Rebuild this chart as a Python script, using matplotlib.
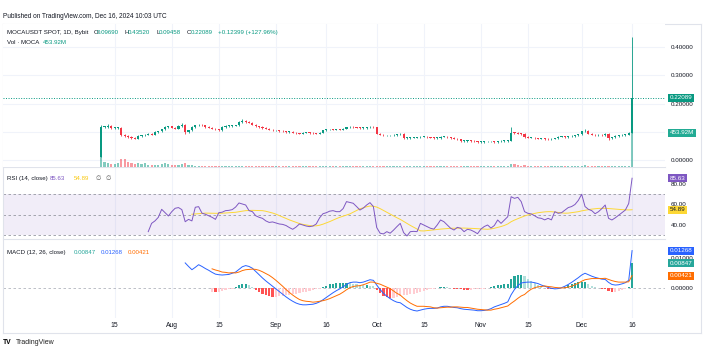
import matplotlib
matplotlib.use("Agg")
import matplotlib.pyplot as plt
import matplotlib.dates as mdates
from matplotlib.lines import Line2D
from matplotlib.ticker import FormatStrFormatter
from matplotlib.transforms import blended_transform_factory
import numpy as np
import pandas as pd

# ---------------- data ----------------
start_day = "2024-07-11"
closes = [
    0.1168, 0.1168, 0.1204, 0.1133, 0.1133, 0.1150, 0.0885, 0.0850, 0.0814, 0.0779,
    0.0754, 0.0850, 0.0874, 0.0896, 0.0931, 0.0896, 0.0991, 0.1016, 0.1087, 0.1168,
    0.1193, 0.1143, 0.1108, 0.1204, 0.1250, 0.0991, 0.1051, 0.1168, 0.1228, 0.1250,
    0.1228, 0.1168, 0.1143, 0.1108, 0.1087, 0.1051, 0.1168, 0.1204, 0.1204, 0.1215,
    0.1228, 0.1345, 0.1380, 0.1345, 0.1320, 0.1250, 0.1193, 0.1168, 0.1133, 0.1108,
    0.1073, 0.1051, 0.1051, 0.1027, 0.1016, 0.0991, 0.0991, 0.0966, 0.0945, 0.0931,
    0.0966, 0.0966, 0.0956, 0.0945, 0.0931, 0.0966, 0.1051, 0.1087, 0.1087, 0.1073,
    0.1087, 0.1073, 0.1108, 0.1158, 0.1168, 0.1158, 0.1143, 0.1133, 0.1133, 0.1158,
    0.1168, 0.1158, 0.0931, 0.0896, 0.0874, 0.0874, 0.0874, 0.0885, 0.0910, 0.0920,
    0.0779, 0.0779, 0.0790, 0.0790, 0.0804, 0.0825, 0.0825, 0.0804, 0.0790, 0.0779,
    0.0779, 0.0825, 0.0825, 0.0804, 0.0779, 0.0754, 0.0733, 0.0673, 0.0673, 0.0683,
    0.0673, 0.0662, 0.0637, 0.0637, 0.0662, 0.0662, 0.0662, 0.0637, 0.0662, 0.0673,
    0.0673, 0.0683, 0.0966, 0.0956, 0.0931, 0.0920, 0.0814, 0.0790, 0.0790, 0.0768,
    0.0754, 0.0754, 0.0743, 0.0733, 0.0754, 0.0768, 0.0825, 0.0839, 0.0814, 0.0839,
    0.0850, 0.0874, 0.0910, 0.1016, 0.1040, 0.0931, 0.0896, 0.0874, 0.0896, 0.0874,
    0.0920, 0.0779, 0.0804, 0.0850, 0.0874, 0.0885, 0.0896, 0.0969, 0.22089,
]
first_open = 0.0110
high_marks = {0: 0.125, 2: 0.127, 24: 0.130, 42: 0.146, 122: 0.1168, 144: 0.108, 158: 0.4352}
low_marks = {0: 0.009, 25: 0.092, 151: 0.0708, 158: 0.09458}
volume_m = [
    133, 67, 53, 40, 40, 47, 107, 113, 67, 53,
    40, 60, 40, 47, 33, 33, 33, 33, 40, 47,
    40, 33, 27, 33, 40, 47, 33, 27, 20, 20,
    20, 18, 16, 15, 14, 15, 16, 14, 13, 12,
    14, 18, 20, 16, 14, 13, 12, 11, 10, 10,
    9, 9, 9, 8, 8, 8, 8, 8, 7, 7,
    7, 7, 7, 7, 7, 8, 12, 10, 9, 8,
    8, 8, 9, 10, 9, 8, 8, 7, 7, 8,
    8, 8, 18, 12, 10, 8, 8, 8, 8, 8,
    14, 10, 8, 8, 7, 8, 8, 7, 7, 7,
    7, 8, 8, 7, 7, 8, 8, 10, 8, 7,
    7, 7, 8, 7, 7, 7, 7, 7, 7, 7,
    7, 8, 40, 35, 25, 18, 25, 14, 10, 9,
    9, 9, 12, 14, 10, 9, 10, 9, 8, 9,
    9, 10, 12, 20, 22, 18, 14, 12, 10, 10,
    12, 20, 14, 12, 10, 10, 10, 14, 453.92,
]
rsi_vals = [
    33.5, 41.6, 44.0, 47.5, 55.3, 52.0, 48.8, 53.0, 56.3, 57.0,
    55.0, 43.2, 45.5, 44.0, 57.3, 57.9, 51.5, 50.5, 49.0, 47.5,
    45.5, 52.0, 52.5, 54.0, 54.3, 55.0, 57.5, 61.5, 60.5, 59.5,
    54.0, 53.0, 49.0, 47.5, 46.5, 44.0, 42.5, 43.0, 42.0, 41.0,
    40.6, 39.5, 37.5, 35.8, 38.0, 41.0, 40.0, 39.0, 38.4, 39.0,
    41.0, 47.0, 51.0, 52.0, 53.5, 54.0, 53.0, 53.0, 56.0, 62.8,
    62.0, 61.2, 58.0, 54.6, 56.5, 59.5, 61.8, 58.0, 37.5, 32.0,
    31.3, 33.5, 32.0, 35.0, 38.4, 41.6, 32.6, 29.3, 33.5, 33.8,
    33.5, 41.6, 40.0, 38.4, 36.8, 36.0, 40.0, 44.9, 43.2, 40.0,
    36.8, 35.1, 37.7, 36.8, 33.5, 35.8, 35.1, 33.5, 31.5, 36.0,
    38.5, 40.0, 37.0, 39.5, 44.9, 41.6, 44.9, 48.1, 67.6, 66.0,
    67.0, 62.8, 53.0, 51.4, 50.8, 49.0, 47.0, 46.5, 45.0, 46.5,
    45.0, 53.0, 51.4, 52.0, 54.5, 57.0, 58.0, 60.0, 64.0, 70.0,
    58.0, 55.3, 54.0, 51.0, 53.0, 56.0, 59.5, 46.5, 44.9, 47.0,
    49.5, 52.0, 54.6, 61.0, 85.63,
]
rsi_ma_vals = [
    50.5, 50.8, 51.2, 51.5, 51.6, 51.5, 51.4, 51.4, 51.4, 51.5,
    51.7, 51.8, 52.0, 52.4, 53.0, 53.5, 54.0, 54.2, 54.3, 54.2,
    54.1, 54.0, 53.4, 52.6, 51.7, 50.6, 49.2, 47.8, 46.3, 45.0,
    43.8, 42.6, 41.4, 40.6, 40.0, 39.5, 39.1, 39.2, 39.8, 40.8,
    42.0, 43.3, 44.8, 46.2, 47.5, 48.6, 49.7, 50.8, 52.5, 54.2,
    55.8, 56.8, 57.8, 58.5, 58.3, 57.5, 56.0, 54.2, 52.3, 50.5,
    48.8, 47.1, 45.5, 43.5, 41.5, 39.6, 37.8, 36.0, 34.3, 34.2,
    34.5, 34.9, 35.3, 35.7, 36.0, 36.3, 36.6, 36.8, 36.8, 36.9,
    37.0, 37.0, 36.9, 36.8, 36.6, 36.4, 36.2, 36.0, 35.8, 36.2,
    36.8, 37.6, 38.5, 39.6, 41.0, 43.2, 44.8, 46.2, 47.5, 48.8,
    49.8, 50.6, 51.3, 52.0, 52.4, 52.8, 53.0, 53.0, 52.6, 52.2,
    51.8, 51.5, 51.6, 52.0, 52.5, 53.0, 53.8, 54.4, 55.0, 55.5,
    55.9, 56.2, 56.3, 56.3, 56.1, 55.8, 55.5, 55.2, 55.0, 54.8,
    54.7, 54.89,
]
# MACD pane values in units of 0.001 (all series end on Dec 16)
macd_vals = [
    8.5, 7.3, 6.2, 7.0, 7.9, 7.3, 6.6, 6.0, 5.3, 4.7,
    4.5, 4.4, 4.5, 4.6, 5.0, 5.4, 6.3, 7.2, 7.6, 7.3,
    6.7, 5.6, 4.5, 3.4, 2.4, 1.5, 0.6, -0.3, -1.2, -2.1,
    -3.0, -3.8, -4.5, -5.1, -5.5, -5.7, -5.7, -5.6, -5.5, -5.2,
    -4.7, -4.0, -3.2, -2.4, -1.6, -0.9, -0.3, 0.4, 1.2, 1.8,
    2.0, 2.0, 1.8, 2.0, 2.4, 2.8, 2.6, 1.0, -0.5, -1.8,
    -2.8, -3.6, -4.3, -4.8, -5.0, -5.8, -6.6, -7.2, -7.6, -7.8,
    -7.5, -7.2, -7.0, -6.9, -6.9, -6.8, -6.4, -6.2, -6.2, -6.4,
    -6.6, -6.7, -7.0, -7.2, -7.3, -7.4, -7.5, -7.7, -7.7, -7.6,
    -7.4, -7.0, -6.4, -6.0, -5.6, -5.2, -4.7, -2.3, -0.5, 0.8,
    1.7, 1.9, 2.0, 2.0, 1.8, 1.5, 1.0, 0.6, 0.2, -0.1,
    -0.3, -0.2, 0.1, 0.6, 1.2, 1.9, 2.7, 3.5, 4.4, 5.0,
    4.5, 4.0, 3.6, 3.3, 3.0, 2.9, 1.9, 1.2, 1.0, 1.1,
    1.4, 1.8, 2.6, 12.68,
]
signal_vals = [
    6.5, 6.1, 5.8, 5.4, 5.3, 5.1, 5.2, 5.1, 5.4, 5.9,
    6.2, 6.3, 6.4, 6.3, 6.0, 5.5, 4.9, 4.3, 3.5, 2.6,
    1.6, 0.6, -0.5, -1.5, -2.4, -3.2, -3.9, -4.3, -4.5, -4.6,
    -4.8, -4.7, -4.5, -4.3, -4.0, -3.6, -3.1, -2.6, -2.1, -1.4,
    -0.6, 0.1, 0.5, 0.7, 0.8, 1.1, 1.5, 2.0, 2.0, 1.6,
    1.3, 0.8, 0.3, -0.2, -1.0, -1.8, -2.4, -3.4, -4.3, -5.1,
    -5.7, -6.2, -6.2, -6.2, -6.3, -6.4, -6.7, -6.8, -6.7, -6.6,
    -6.5, -6.5, -6.4, -6.4, -6.5, -6.6, -6.6, -6.8, -7.0, -7.2,
    -7.3, -7.4, -7.5, -7.5, -7.2, -7.0, -6.7, -6.4, -6.1, -5.2,
    -4.4, -3.5, -2.7, -2.2, -1.2, -0.4, 0.1, 0.4, 0.5, 0.7,
    0.5, 0.4, 0.2, 0.1, 0.0, 0.1, 0.3, 0.6, 1.1, 1.6,
    2.3, 2.8, 3.0, 3.2, 3.2, 3.2, 3.2, 3.3, 2.9, 2.5,
    2.2, 2.0, 2.0, 2.0, 2.1, 4.21,
]
hist_vals = [
    -1.2, -1.4, -1.3, -1.0, -0.8, -0.5, -0.2, 0.3, 0.9, 1.3,
    1.4, 1.0, 0.3, -0.7, -1.5, -2.1, -2.5, -2.8, -2.9, -2.9,
    -2.8, -2.7, -2.5, -2.3, -2.1, -1.9, -1.6, -1.4, -1.2, -1.0,
    -0.7, -0.5, -0.2, 0.3, 0.8, 1.2, 1.5, 1.7, 1.8, 1.8,
    1.8, 1.7, 1.5, 1.3, 1.0, 0.9, 0.9, 0.8, 0.6, -0.6,
    -1.8, -2.6, -3.1, -3.4, -3.3, -3.0, -2.6, -2.4, -2.3, -2.1,
    -1.9, -1.6, -1.3, -1.0, -0.7, -0.5, -0.3, 0.1, 0.3, 0.4,
    0.3, 0.1, -0.2, -0.3, -0.5, -0.6, -0.7, -0.6, -0.5, -0.5,
    -0.4, -0.2, 0.1, 0.5, 0.8, 1.0, 1.1, 1.2, 1.4, 2.9,
    3.9, 4.3, 4.4, 4.1, 3.2, 2.4, 1.7, 1.1, 0.5, -0.1,
    -0.3, -0.5, -0.5, -0.3, 0.1, 0.5, 0.9, 1.3, 1.6, 1.9,
    2.1, 2.2, 1.5, 0.8, 0.4, 0.1, -0.2, -0.4, -1.0, -1.3,
    -1.2, -0.9, -0.6, -0.2, 0.5, 8.47,
]
tick_dates = ["2024-07-15", "2024-08-01", "2024-08-15", "2024-09-01", "2024-09-16",
              "2024-10-01", "2024-10-15", "2024-11-01", "2024-11-15", "2024-12-01",
              "2024-12-16"]
tick_labels = ["15", "Aug", "15", "Sep", "16", "Oct", "15", "Nov", "15", "Dec", "16"]
price_ticks = [0.0, 0.1, 0.2, 0.3, 0.4]
rsi_ticks = [40, 60, 80]
macd_ticks = [0.0, 0.01]

# ---------------- style ----------------
UP, DOWN = "#089981", "#F23645"
TXT = "#131722"
GRID = "#F0F3FA"
BORDER = "#E0E3EB"
FONT = ["Liberation Sans", "DejaVu Sans"]
plt.rcParams["font.family"] = FONT

W, H = 703, 351
fig = plt.figure(figsize=(W / 100, H / 100), dpi=100)
fig.patch.set_facecolor("white")
R = fig.canvas.get_renderer()

def fit(text, px_w, **kw):
    t = fig.text(0, 0, text, fontsize=10, **kw)
    w = t.get_window_extent(renderer=R).width
    t.remove()
    return 10 * px_w / w

def put(text, x, y, size, color=TXT, ha="left", **kw):
    return fig.text(x / W, 1 - y / H, text, fontsize=size, color=color,
                    ha=ha, va="center", **kw)

L_PX, R_PX = 3, 665
def pane(top, bot):
    return fig.add_axes([L_PX / W, 1 - bot / H, (R_PX - L_PX) / W, (bot - top) / H])

n = len(closes)
dates = pd.date_range(start_day, periods=n, freq="D")
xs = mdates.date2num(dates)
PPD, X0PX = 3.36, 101.2
xlim = (xs[0] + (L_PX - X0PX) / PPD, xs[0] + (R_PX - X0PX) / PPD)
tick_x = mdates.date2num(pd.to_datetime(tick_dates))

ax_v = pane(24, 167)
ax_p = ax_v.twinx()
ax_r = pane(168, 238)
ax_m = pane(239, 318)

tick_size = fit("0.40000", 22.7)
for a in (ax_v, ax_p, ax_r, ax_m):
    a.set_xlim(*xlim)
    for s_ in a.spines.values():
        s_.set_visible(False)
    a.tick_params(axis="both", length=0, labelsize=tick_size, labelcolor=TXT)
    a.set_xticks([])
for a in (ax_v, ax_r, ax_m):
    for tx in tick_x:
        a.axvline(tx, color=GRID, lw=0.8, zorder=0)

def box(ax, val, text, fc, tc="white", coords=None):
    if coords is None:
        coords = ("axes fraction", "data")
    ax.annotate(text, xy=(1, val), xycoords=coords,
                xytext=(3.6, 0), textcoords="offset points", ha="left", va="center",
                fontsize=tick_size, color=tc, annotation_clip=False, zorder=10,
                bbox=dict(boxstyle="square,pad=0.25", fc=fc, ec="none"))

# ---- main pane ----
ax_p.set_zorder(3)
ax_v.set_zorder(2)
ax_p.patch.set_visible(False)
ax_p.set_ylim((160 - 167) / 282.5, (160 - 24) / 282.5)
ax_v.set_ylim(0, 453.92 * 143 / 34)
ax_v.set_yticks([])
grid_tr = blended_transform_factory(ax_v.transAxes, ax_p.transData)
for p in price_ticks:
    ax_v.add_line(Line2D([0, 1], [p, p], transform=grid_tr, color=GRID, lw=0.8, zorder=0))
ax_p.yaxis.tick_right()
ax_p.set_yticks(price_ticks)
ax_p.yaxis.set_major_formatter(FormatStrFormatter("%.5f"))
ax_p.tick_params(axis="y", pad=4.3)

opens = [first_open] + closes[:-1]
o = np.array(opens); c = np.array(closes)
WICK = 0.0022
hi = np.maximum(o, c) + WICK
lo = np.minimum(o, c) - WICK
for k, v in high_marks.items():
    hi[k] = v
for k, v in low_marks.items():
    lo[k] = v
cols = [UP if cc >= oo else DOWN for oo, cc in zip(o, c)]
ax_p.vlines(xs, lo, hi, colors=cols, lw=0.6, zorder=3)
body = np.maximum(np.abs(c - o), 0.0025)
ax_p.bar(xs, body, bottom=np.minimum(o, c), width=0.64, color=cols, linewidth=0, zorder=4)
ax_v.bar(xs, volume_m, width=0.64, color=cols, alpha=0.5, linewidth=0, zorder=2)
ax_p.axhline(closes[-1], color=UP, lw=0.7, ls=(0, (1, 1.6)), zorder=5)

box(ax_p, closes[-1], "0.22089", UP)
box(ax_p, volume_m[-1], "453.92M", "#22AB94",
    coords=blended_transform_factory(ax_p.transAxes, ax_v.transData))

# ---- RSI pane ----
def v2y_rsi(y):
    return 80 - (y - 184) / 1.025
ax_r.set_ylim(v2y_rsi(238), v2y_rsi(168))
ax_r.axhspan(30, 70, color="#7E57C2", alpha=0.1, lw=0, zorder=1)
for lvl in (70, 50, 30):
    ax_r.axhline(lvl, color="#9598A1", lw=0.6, ls=(0, (3, 3)), zorder=2)
rx = xs[n - len(rsi_vals):]
rmx = xs[n - len(rsi_ma_vals):]
ax_r.plot(rmx, rsi_ma_vals, color="#FDD835", lw=0.7, zorder=3)
ax_r.plot(rx, rsi_vals, color="#7E57C2", lw=0.7, zorder=4)
ax_r.yaxis.tick_right()
ax_r.set_yticks(rsi_ticks)
ax_r.yaxis.set_major_formatter(FormatStrFormatter("%.2f"))
ax_r.tick_params(axis="y", pad=4.3)
box(ax_r, rsi_vals[-1], "85.63", "#7E57C2")
box(ax_r, rsi_ma_vals[-1], "54.89", "#FDD835", tc=TXT)

# ---- MACD pane ----
ax_m.set_ylim(-(318 - 288) / 2.95 * 0.001, (288 - 239) / 2.95 * 0.001)
ax_m.axhline(0, color="#B2B5BE", lw=0.6, ls=(0, (3, 3)), zorder=1)
m = np.array(macd_vals) * 0.001
s = np.array(signal_vals) * 0.001
hst = np.array(hist_vals) * 0.001
mx = xs[n - len(m):]
sx = xs[n - len(s):]
hx = xs[n - len(hst):]
hcols = []
for k, hv in enumerate(hst):
    prev = hst[k - 1] if k > 0 else hv
    if hv >= 0:
        hcols.append("#26A69A" if hv >= prev else "#B2DFDB")
    else:
        hcols.append("#FFCDD2" if hv >= prev else "#FF5252")
ax_m.bar(hx, hst, width=0.64, color=hcols, linewidth=0, zorder=2)
ax_m.plot(mx, m, color="#2962FF", lw=0.7, zorder=3)
ax_m.plot(sx, s, color="#FF6D00", lw=0.7, zorder=3)
ax_m.yaxis.tick_right()
ax_m.set_yticks(macd_ticks)
ax_m.yaxis.set_major_formatter(FormatStrFormatter("%.5f"))
ax_m.tick_params(axis="y", pad=4.3)
box(ax_m, m[-1], "0.01268", "#2962FF")
box(ax_m, hst[-1], "0.00847", "#26A69A")
box(ax_m, s[-1], "0.00421", "#FF6D00")

date_size = fit("Aug", 12)
ax_m.set_xticks(tick_x)
ax_m.set_xticklabels(tick_labels)
ax_m.tick_params(axis="x", length=0, pad=3.2, labelsize=date_size, labelcolor=TXT)

# ---- frame lines ----
def hline(y, x0=3, x1=701):
    fig.add_artist(Line2D([x0 / W, x1 / W], [1 - y / H, 1 - y / H], color=BORDER, lw=0.8))
def vline(x, y0, y1):
    fig.add_artist(Line2D([x / W, x / W], [1 - y0 / H, 1 - y1 / H], color=BORDER, lw=0.8))
hline(23.5); hline(332.5); hline(167.5, 3, 665); hline(238.5, 3, 665)
vline(3, 23.5, 332.5); vline(701, 23.5, 332.5)

# ---- texts ----
put("Published on TradingView.com, Dec 16, 2024 10:03 UTC", 3, 16,
    fit("Published on TradingView.com, Dec 16, 2024 10:03 UTC", 166))
ts = fit("MOCAUSDT SPOT, 1D, Bybit", 81)
yT = 32.3
put("MOCAUSDT SPOT, 1D, Bybit", 7.3, yT, ts)
for lab, lx, val, vx in [("O", 93.3, "0.09690", 96.7), ("H", 124.3, "0.43520", 128),
                         ("L", 156.7, "0.09458", 159), ("C", 187, "0.22089", 191)]:
    put(lab, lx, yT, ts)
    put(val, vx, yT, ts, color=UP)
put("+0.12399 (+127.96%)", 218, yT, ts, color=UP)
put("Vol \u00b7 MOCA", 7.3, 42.3, ts)
put("453.92M", 43.3, 42.3, ts, color=UP)

yR = 178.3
put("RSI (14, close)", 7.3, yR, ts)
put("85.63", 50, yR, ts, color="#7E57C2")
put("54.89", 74, yR, ts, color="#F9C80E")
put("\u2205", 95, yR, ts, color="#555")
put("\u2205", 105, yR, ts, color="#555")

yM = 252.7
put("MACD (12, 26, close)", 7.3, yM, ts)
put("0.00847", 73.3, yM, ts, color="#26A69A")
put("0.01268", 100.7, yM, ts, color="#2962FF")
put("0.00421", 128, yM, ts, color="#FF6D00")

put("TV", 3, 342.7, ts * 1.1, color="black", fontweight="bold")
put("TradingView", 15.5, 342.7, fit("TradingView", 39), color="#222")

fig.savefig("out.png", dpi=100, facecolor="white")
